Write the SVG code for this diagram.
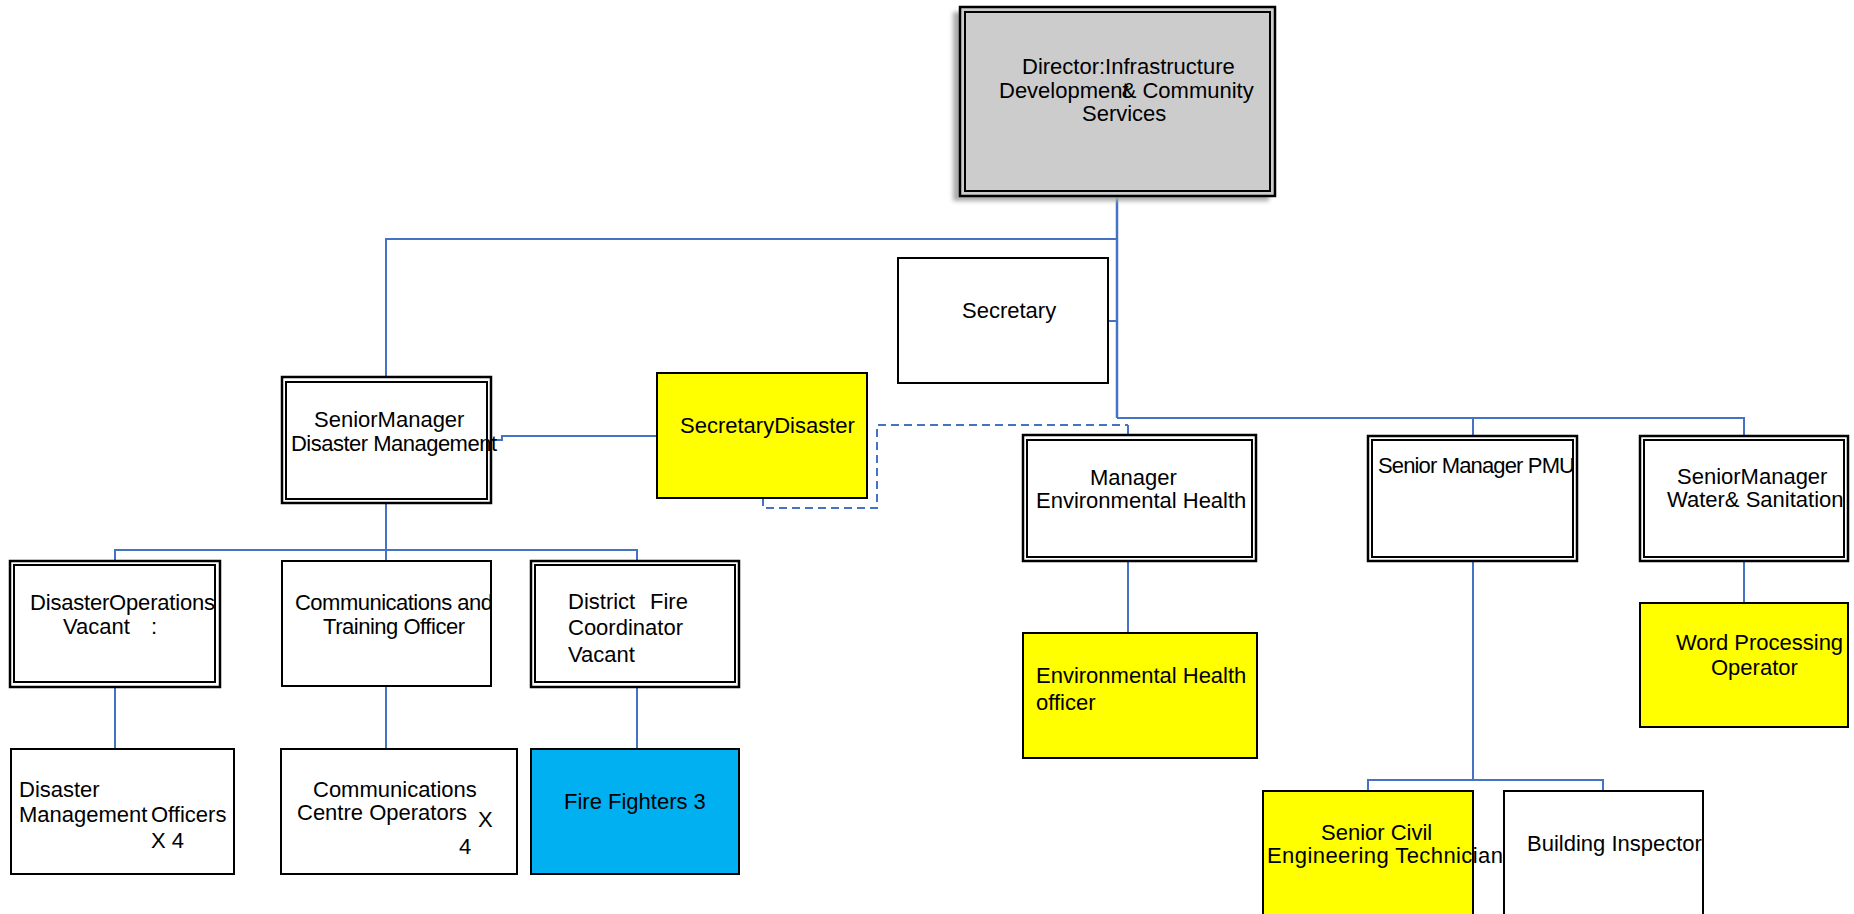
<svg xmlns="http://www.w3.org/2000/svg" width="1854" height="914" viewBox="0 0 1854 914">
  <style>
    .box { fill: #ffffff; stroke: #000000; stroke-width: 2; }
    .outer { fill: #ffffff; stroke: #000000; stroke-width: 2.5; }
    .inner { fill: none; stroke: #000000; stroke-width: 2; }
    .yellow { fill: #ffff00; }
    .blue { fill: #00b0f0; }
    .grey { fill: #cccccc; }
    .link { fill: none; stroke: #4472c4; stroke-width: 2; }
    .trunk { fill: none; stroke: #4472c4; stroke-width: 2.5; }
    .dash { fill: none; stroke: #4472c4; stroke-width: 2; stroke-dasharray: 8 5; }
    text { font-family: "Liberation Sans", Arial, sans-serif; font-size: 22px; fill: #000000; }
  </style>
  <defs>
    <filter id="soft" x="-10%" y="-10%" width="120%" height="120%">
      <feGaussianBlur stdDeviation="2"/>
    </filter>
  </defs>

  <!-- reporting lines -->
  <g id="connectors">
    <path class="trunk" d="M1117,196 V418"/>
    <path class="link" d="M1117,418 H1744 V436"/>
    <path class="link" d="M1473,418 V436"/>
    <path class="link" d="M1117,239 H386 V377"/>
    <path class="link" d="M1108,321 H1117"/>
    <path class="link" d="M491,440 H502 V436 H657"/>
    <path class="dash" d="M763,498 V508 H877 V425 H1128"/>
    <path class="link" d="M1128,425 V435"/>
    <path class="link" d="M386,503 V561"/>
    <path class="link" d="M115,561 V550 H637 V561"/>
    <path class="link" d="M115,687 V749"/>
    <path class="link" d="M386,686 V749"/>
    <path class="link" d="M637,687 V749"/>
    <path class="link" d="M1128,561 V633"/>
    <path class="link" d="M1744,561 V603"/>
    <path class="link" d="M1473,561 V780 M1368,791 V780 H1603 V791"/>
  </g>

  <g id="director">
    <rect x="953" y="12" width="316" height="189" fill="#aaaaaa" filter="url(#soft)"/>
    <rect class="outer grey" x="960" y="7" width="315" height="189"/>
    <rect class="inner" x="965" y="12" width="305" height="179"/>
    <text x="1022" y="74">Director:Infrastructure</text>
    <text x="999" y="98">Development<tspan dx="-7">&amp; Community</tspan></text>
    <text x="1082" y="121">Services</text>
  </g>

  <g id="secretary">
    <rect class="box" x="898" y="258" width="210" height="125"/>
    <text x="962" y="318">Secretary</text>
  </g>

  <g id="senior-manager-disaster">
    <rect class="outer" x="282" y="377" width="209" height="126"/>
    <rect class="inner" x="286" y="382" width="201" height="117"/>
    <text x="314" y="427">SeniorManager</text>
    <text x="291" y="451" textLength="206" lengthAdjust="spacing">Disaster Management</text>
  </g>

  <g id="secretary-disaster">
    <rect class="box yellow" x="657" y="373" width="210" height="125"/>
    <text x="680" y="433">SecretaryDisaster</text>
  </g>

  <g id="manager-environmental-health">
    <rect class="outer" x="1023" y="435" width="233" height="126"/>
    <rect class="inner" x="1027" y="440" width="225" height="117"/>
    <text x="1090" y="485">Manager</text>
    <text x="1036" y="508">Environmental Health</text>
  </g>

  <g id="senior-manager-pmu">
    <rect class="outer" x="1368" y="436" width="209" height="125"/>
    <rect class="inner" x="1372" y="440" width="201" height="117"/>
    <text x="1378" y="473" textLength="197" lengthAdjust="spacing">Senior Manager PMU</text>
  </g>

  <g id="senior-manager-water">
    <rect class="outer" x="1640" y="436" width="208" height="125"/>
    <rect class="inner" x="1644" y="440" width="200" height="117"/>
    <text x="1677" y="484">SeniorManager</text>
    <text x="1667" y="507">Water&amp; Sanitation</text>
  </g>

  <g id="disaster-operations">
    <rect class="outer" x="10" y="561" width="210" height="126"/>
    <rect class="inner" x="14" y="565" width="201" height="117"/>
    <text x="30" y="610" textLength="185" lengthAdjust="spacing">DisasterOperations</text>
    <text x="63" y="634">Vacant<tspan x="151">:</tspan></text>
  </g>

  <g id="communications-training">
    <rect class="box" x="282" y="561" width="209" height="125"/>
    <text x="295" y="610" textLength="198" lengthAdjust="spacing">Communications and</text>
    <text x="323" y="634" textLength="142" lengthAdjust="spacing">Training Officer</text>
  </g>

  <g id="district-fire">
    <rect class="outer" x="531" y="561" width="208" height="126"/>
    <rect class="inner" x="535" y="565" width="200" height="117"/>
    <text x="568" y="609">District<tspan x="650">Fire</tspan></text>
    <text x="568" y="635">Coordinator</text>
    <text x="568" y="662">Vacant</text>
  </g>

  <g id="disaster-management-officers">
    <rect class="box" x="11" y="749" width="223" height="125"/>
    <text x="19" y="797">Disaster</text>
    <text x="19" y="822">Management<tspan x="151">Officers</tspan></text>
    <text x="151" y="848">X 4</text>
  </g>

  <g id="communications-centre-operators">
    <rect class="box" x="281" y="749" width="236" height="125"/>
    <text x="313" y="797">Communications</text>
    <text x="297" y="820">Centre Operators</text>
    <text x="478" y="827">X</text>
    <text x="459" y="854">4</text>
  </g>

  <g id="fire-fighters">
    <rect class="box blue" x="531" y="749" width="208" height="125"/>
    <text x="564" y="809">Fire Fighters 3</text>
  </g>

  <g id="environmental-health-officer">
    <rect class="box yellow" x="1023" y="633" width="234" height="125"/>
    <text x="1036" y="683">Environmental Health</text>
    <text x="1036" y="710">officer</text>
  </g>

  <g id="word-processing-operator">
    <rect class="box yellow" x="1640" y="603" width="208" height="124"/>
    <text x="1676" y="650">Word Processing</text>
    <text x="1711" y="675">Operator</text>
  </g>

  <g id="senior-civil-engineering-technician">
    <rect class="box yellow" x="1263" y="791" width="210" height="140"/>
    <text x="1321" y="840">Senior Civil</text>
    <text x="1267" y="863" textLength="236" lengthAdjust="spacing">Engineering Technician</text>
  </g>

  <g id="building-inspector">
    <rect class="box" x="1504" y="791" width="199" height="140"/>
    <text x="1527" y="851">Building Inspector</text>
  </g>
</svg>
